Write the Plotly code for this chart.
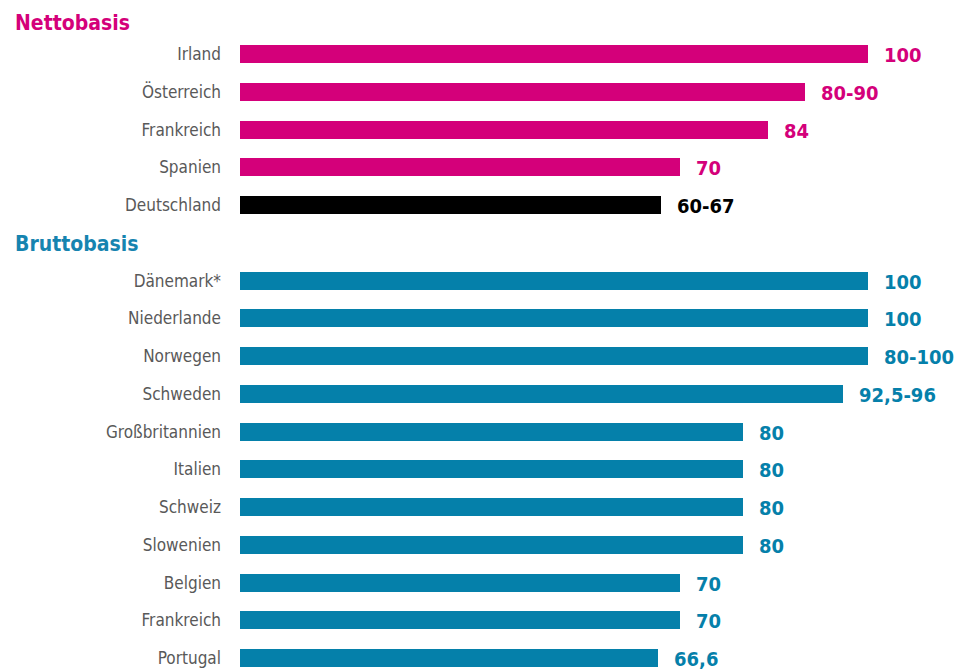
import plotly.graph_objects as go

netto_countries = ["Irland", "Österreich", "Frankreich", "Spanien", "Deutschland"]
netto_values = [100, 90, 84, 70, 67]
netto_labels = ["100", "80-90", "84", "70", "60-67"]

brutto_countries = ["Dänemark*", "Niederlande", "Norwegen", "Schweden", "Großbritannien",
                    "Italien", "Schweiz", "Slowenien", "Belgien", "Frankreich", "Portugal"]
brutto_values = [100, 100, 100, 96, 80, 80, 80, 80, 70, 70, 66.6]
brutto_labels = ["100", "100", "80-100", "92,5-96", "80", "80", "80", "80", "70", "70", "66,6"]

headers = ["Nettobasis", "Bruttobasis"]

MAGENTA = "#D4007A"
BLACK = "#000000"
BLUE = "#0580AA"
BLUE_HDR = "#1684B0"
GRAY = "#595959"
NARROW = "Liberation Sans Narrow, Arial Narrow, DejaVu Sans Condensed, sans-serif"

# the page body adds an 8px offset; the figure is sized to fill the rest of the window
FIG_W, FIG_H = 954, 663
ML, MR = 232, 31

# slot positions: 0 = netto header, 1..5 netto rows, 6 = brutto header, 7..17 brutto rows
netto_pos = list(range(1, 1 + len(netto_countries)))
brutto_start = 2 + len(netto_countries)
brutto_pos = list(range(brutto_start, brutto_start + len(brutto_countries)))

netto_colors = [MAGENTA] * (len(netto_countries) - 1) + [BLACK]

fig = go.Figure()
fig.add_trace(go.Bar(
    y=netto_pos, x=netto_values, orientation="h",
    marker=dict(color=netto_colors, line=dict(width=0)), width=0.48,
    hoverinfo="skip", showlegend=False,
))
fig.add_trace(go.Bar(
    y=brutto_pos, x=brutto_values, orientation="h",
    marker=dict(color=BLUE, line=dict(width=0)), width=0.48,
    hoverinfo="skip", showlegend=False,
))

annotations = []
for p, v, t, c in zip(netto_pos, netto_values, netto_labels, netto_colors):
    annotations.append(dict(x=v, y=p, xref="x", yref="y", text=t, showarrow=False,
                            xanchor="left", yanchor="middle", xshift=14, yshift=-1,
                            font=dict(family=NARROW, size=20, color=c, weight="bold")))
for p, v, t in zip(brutto_pos, brutto_values, brutto_labels):
    annotations.append(dict(x=v, y=p, xref="x", yref="y", text=t, showarrow=False,
                            xanchor="left", yanchor="middle", xshift=14, yshift=-1,
                            font=dict(family=NARROW, size=20, color=BLUE, weight="bold")))

hdr_x = (5 - ML) / (FIG_W - ML - MR)
for hdr, pos, col in zip(headers, [0.18, brutto_start - 0.97], [MAGENTA, BLUE_HDR]):
    annotations.append(dict(x=hdr_x, y=pos, xref="paper", yref="y", text=hdr, showarrow=False,
                            xanchor="left", yanchor="middle",
                            font=dict(family=NARROW, size=21, color=col, weight="bold")))

fig.update_layout(
    width=FIG_W, height=FIG_H,
    margin=dict(l=ML, r=MR, t=0, b=0),
    plot_bgcolor="white", paper_bgcolor="white",
    bargap=0,
    xaxis=dict(range=[0, 110], visible=False, fixedrange=True),
    yaxis=dict(
        range=[17.34, -0.22],
        tickvals=netto_pos + brutto_pos,
        ticktext=netto_countries + brutto_countries,
        tickfont=dict(family=NARROW, size=17, color=GRAY),
        showgrid=False, zeroline=False, showline=False,
        ticks="", ticklabelstandoff=18, ticklabeloverflow="allow",
    ),
    annotations=annotations,
)

fig.write_html("out.html")
